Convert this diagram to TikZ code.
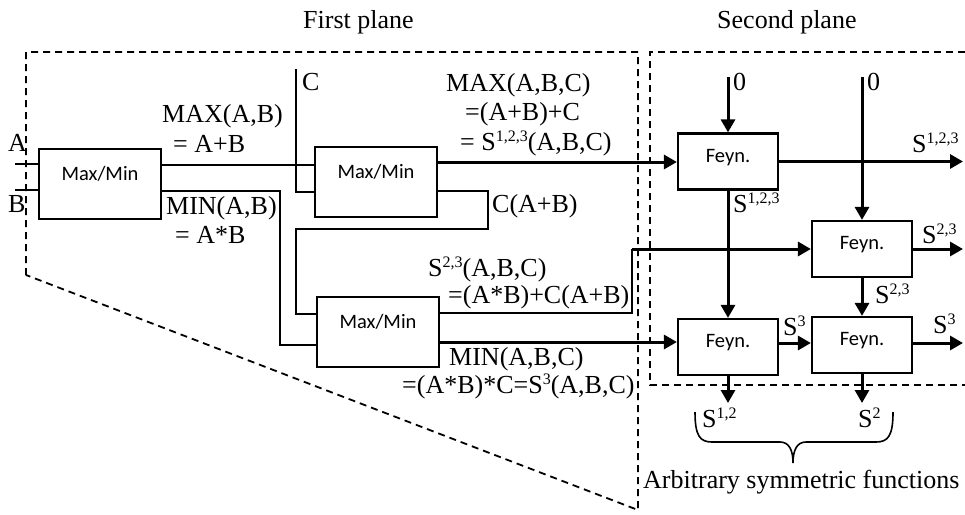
\documentclass[tikz,border=0pt]{standalone}
\usepackage{fontspec}
\setmainfont{Liberation Serif}
\newfontfamily\boxfnt{Carlito}
\usetikzlibrary{arrows.meta}
\newcommand\sps[1]{\raisebox{8.5pt}{\fontsize{16}{16}\selectfont #1}}
\begin{document}
\begin{tikzpicture}[x=1pt,y=-1pt,
  lbl/.style={inner sep=0pt, anchor=base west, font=\fontsize{26}{30}\selectfont},
  wire/.style={line width=2pt},
  bus/.style={line width=3pt},
  arr/.style={-{Triangle[length=13pt,width=14pt]}},
  mmbox/.style={draw, line width=2pt, minimum width=122pt, minimum height=70pt, inner sep=0pt,
    label={[font=\boxfnt\fontsize{20.5}{24}\selectfont, yshift=10pt]center:Max/Min}},
  fnbox/.style={draw, line width=2.2pt, minimum width=100pt, minimum height=56pt, inner sep=0pt,
    label={[font=\boxfnt\fontsize{20.5}{24}\selectfont, yshift=4pt]center:Feyn.}},
  planeline/.style={dash pattern=on 7pt off 5pt, line width=1.8pt}]
\useasboundingbox (0,0) rectangle (965,514);

% planes
\draw[planeline] (26,275) -- (26,52) -- (638,52) -- (638,510) -- cycle;
\draw[planeline] (965,52) -- (650,52) -- (650,385) -- (965,385);

% boxes
\node[mmbox] (mm1) at (100,184) {};
\node[mmbox] (mm2) at (376,182) {};
\node[mmbox] (mm3) at (378,332) {};
\node[fnbox] (f1) at (728,161.5) {};
\node[fnbox] (f2) at (862,249) {};
\node[fnbox] (f3) at (728,347) {};
\node[fnbox] (f4) at (862,345) {};

% helper coordinates
\coordinate (inA) at (15,164);
\coordinate (inB) at (15,190);
\coordinate (cin) at (296,69);
\coordinate (k1) at (280,0);
\coordinate (k2) at (488,229);
\coordinate (k3) at (296,229);
\coordinate (k4) at (632,0);
\coordinate (xr) at (963,0);
\coordinate (yt) at (0,77);
\coordinate (yb) at (0,403);

% first plane wiring
\draw[wire] (inA) -- (inA -| mm1.west);
\draw[wire] (inB) -- (inB -| mm1.west);
\draw[wire] ([yshift=19pt]mm1.east) coordinate (p1) -- (p1 -| mm2.west);
\draw[wire] (cin) |- ([yshift=-10pt]mm2.west);
\draw[wire] ([yshift=-7pt]mm1.east) coordinate (p2) -- (p2 -| k1)
  -- (k1 |- 0,345) coordinate (p3) -- (p3 -| mm3.west);
\draw[wire] ([yshift=-9pt]mm2.east) coordinate (p4) -- (p4 -| k2) -- (k2) -- (k3)
  -- (k3 |- 0,314) coordinate (p5) -- (p5 -| mm3.west);
\draw[bus,arr] ([yshift=20pt]mm2.east) coordinate (p6) -- (p6 -| f1.west);
\draw[wire] ([yshift=19pt]mm3.east) coordinate (p7) -- (p7 -| k4) -- (k4 |- f2.west);
\draw[bus,arr] (k4 |- f2.west) -- (f2.west);
\draw[bus,arr] ([yshift=-10pt]mm3.east) coordinate (p8) -- (p8 -| f3.west);

% second plane wiring
\draw[bus,arr] (f1.north |- yt) -- (f1.north);
\draw[bus,arr] (f2.north |- yt) -- (f2.north);
\draw[bus,arr] (f1.east) -- (f1.east -| xr);
\draw[bus,arr] (f2.east) -- (f2.east -| xr);
\draw[bus,arr] (f1.south) -- (f3.north);
\draw[bus,arr] (f2.south) -- (f4.north);
\draw[bus,arr] ([yshift=4pt]f3.east) coordinate (p9) -- (p9 -| f4.west);
\draw[bus,arr] ([yshift=2pt]f4.east) coordinate (p10) -- (p10 -| xr);
\draw[bus,arr] (f3.south) -- (f3.south |- yb);
\draw[bus,arr] (f4.south) -- (f4.south |- yb);

% brace
\draw[line width=1.6pt] (695,412) .. controls (695,436) and (700,442) .. (712,442)
  -- (780,442) .. controls (789,442) and (793,450) .. (793,463)
  .. controls (793,450) and (797,442) .. (806,442)
  -- (876,442) .. controls (888,442) and (893,436) .. (893,412);

% labels
\node[lbl] (tFirst) at (303,28) {First plane};
\node[lbl] (tSecond) at (717,28) {Second plane};
\node[lbl] (tA) at (8,151) {A};
\node[lbl] (tB) at (8,212) {B};
\node[lbl] (tMaxAB) at (162,122) {MAX(A,B)};
\node[lbl] (tMaxAB2) at (173,152) {= A+B};
\node[lbl] (tMinAB) at (166,214) {MIN(A,B)};
\node[lbl] (tMinAB2) at (175,243) {= A*B};
\node[lbl] (tC) at (302,90) {C};
\node[lbl] (tMaxABC) at (446,91) {MAX(A,B,C)};
\node[lbl] (tMaxABC2) at (465,120) {=(A+B)+C};
\node[lbl] (tMaxABC3) at (460,150) {= S\sps{1,2,3}(A,B,C)};
\node[lbl] (tCAB) at (492,212) {C(A+B)};
\node[lbl] (tS23a) at (428,276) {S\sps{2,3}(A,B,C)};
\node[lbl] (tS23b) at (448,303) {=(A*B)+C(A+B)};
\node[lbl] (tMinABC) at (449,365) {MIN(A,B,C)};
\node[lbl] (tMinABC2) at (402,393) {=(A*B)*C=S\sps{3}(A,B,C)};
\node[lbl] (tz1) at (733,90) {0};
\node[lbl] (tz2) at (867,90) {0};
\node[lbl] (tS123r) at (912,152) {S\sps{1,2,3}};
\node[lbl] (tS123d) at (733,212) {S\sps{1,2,3}};
\node[lbl] (tS23r) at (922,243) {S\sps{2,3}};
\node[lbl] (tS23d) at (875,303) {S\sps{2,3}};
\node[lbl] (tS3m) at (783,335) {S\sps{3}};
\node[lbl] (tS3r) at (933,333) {S\sps{3}};
\node[lbl] (tS12) at (702,427) {S\sps{1,2}};
\node[lbl] (tS2) at (858,427) {S\sps{2}};
\node[lbl] (tArb) at (643,488) {Arbitrary symmetric functions};
\end{tikzpicture}
\end{document}
